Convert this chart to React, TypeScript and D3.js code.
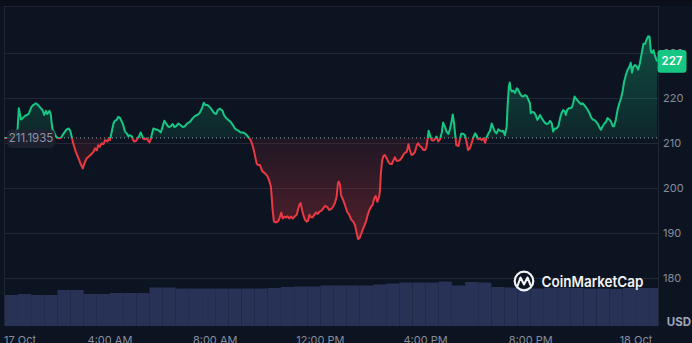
import React from "react";
import * as d3 from "d3";

// ---- data ----
// [minutes since 17 Oct 00:00, price USD]
const priceSeries: [number, number][] = [
  [0,211.1],[12,211.3],[21,211.6],[29,213.0],[32,217.8],[37,215.3],[41,215.6],[46,216.1],[54,216.5],[61,218.1],[65,218.5],[71,218.9],[76,218.5],[82,217.8],[86,217.4],[90,216.3],[94,217.2],[97,216.5],[102,217.2],[105,216.3],[107,214.4],[109,213.0],[117,211.5],[122,211.1],[128,211.2],[133,212.0],[141,213.1],[146,213.3],[150,212.6],[153,211.3],[156,210.0],[162,208.1],[168,206.7],[173,205.4],[178,204.4],[181,205.4],[187,206.7],[193,207.2],[198,207.6],[202,208.1],[206,208.9],[210,208.4],[213,209.6],[217,209.2],[221,210.0],[225,209.8],[229,210.7],[234,210.4],[238,211.1],
  [240,210.7],[244,212.6],[248,214.4],[251,215.0],[255,215.2],[259,215.9],[263,215.6],[267,214.8],[270,214.1],[274,212.6],[278,212.2],[282,211.6],[286,211.8],[290,211.5],[292,210.9],[295,210.4],[299,210.5],[302,210.9],[306,211.5],[310,212.4],[314,211.5],[316,211.0],[320,210.9],[324,211.1],[327,210.6],[330,210.2],[333,210.9],[335,211.8],[339,213.3],[343,213.1],[348,213.0],[352,212.8],[356,212.4],[360,213.7],[364,215.0],[368,214.4],[372,213.8],[375,213.6],[379,213.8],[383,214.3],[387,213.6],[391,213.8],[396,214.4],[401,214.0],[406,213.6],[411,213.8],[416,214.4],[423,214.8],[429,215.6],[434,216.1],[439,216.3],[444,216.7],[448,217.4],[451,218.1],[454,219.0],[458,218.5],[462,218.5],[467,218.1],[470,217.8],[474,217.2],[478,216.7],[482,216.5],[486,217.4],[491,217.7],
  [497,217.2],[500,216.3],[505,215.6],[510,215.2],[515,214.8],[520,214.1],[525,213.3],[529,213.0],[533,212.8],[538,212.4],[543,212.4],[548,212.2],[552,211.8],[556,211.3],[561,210.7],[565,209.6],[569,208.1],[572,206.7],[575,205.4],[578,205.2],[582,205.2],[585,204.4],[588,203.7],[594,203.3],[599,202.7],[603,201.8],[607,200.4],[609,198.1],[611,195.2],[614,192.6],[619,192.4],[624,192.7],[628,193.7],[631,194.6],[634,193.3],[638,193.7],[642,193.5],[645,193.8],[649,193.3],[653,193.7],[657,193.3],[661,193.7],[666,194.1],[669,195.3],[672,196.3],[675,196.7],[678,195.3],[681,194.1],[685,193.0],[689,192.6],[692,192.8],[695,194.1],[698,193.6],[702,193.5],[706,194.1],[710,194.6],[714,194.3],[718,194.8],[722,195.0],[727,195.6],[731,196.1],[736,195.8],[740,195.2],[745,195.4],[749,195.9],[753,196.7],[757,198.1],[760,201.1],[762,201.5],[765,200.7],
  [767,198.5],[772,197.4],[776,196.3],[781,194.8],[786,194.1],[790,193.1],[795,192.6],[799,191.8],[803,190.0],[806,188.7],[809,188.9],[813,189.8],[817,190.9],[820,191.6],[824,192.6],[828,194.1],[832,195.2],[835,195.8],[839,196.3],[843,197.8],[846,198.3],[850,197.0],[854,198.1],[856,199.6],[858,203.3],[861,206.3],[864,207.2],[867,207.4],[871,206.7],[875,205.9],[879,205.4],[883,205.4],[886,206.1],[890,206.9],[894,206.1],[898,206.1],[902,206.3],[905,206.7],[909,207.4],[913,207.9],[917,208.1],[921,209.8],[924,208.5],[928,207.4],[932,207.6],[936,208.1],[940,209.6],[943,210.0],[947,209.4],[951,209.1],[955,208.5],[959,208.5],[962,209.2],[965,211.2],[967,212.8],[970,211.8],[974,210.7],[978,210.6],[981,210.9],[985,211.5],[989,210.4],[993,210.9],
  [997,212.4],[1000,214.6],[1004,213.7],[1008,212.6],[1012,212.1],[1016,213.3],[1020,215.2],[1022,216.4],[1025,214.4],[1028,211.5],[1030,209.6],[1035,209.4],[1038,210.7],[1041,212.1],[1046,212.1],[1050,211.8],[1054,210.0],[1057,208.5],[1061,208.9],[1065,210.0],[1069,211.3],[1073,212.2],[1077,211.6],[1080,210.9],[1084,211.1],[1088,210.7],[1092,211.1],[1096,210.1],[1099,211.3],[1103,212.1],[1107,212.8],[1111,214.4],[1115,213.3],[1118,212.6],[1122,212.2],[1126,213.1],[1130,212.8],[1134,212.6],[1137,212.8],[1141,211.8],[1145,213.7],[1147,218.1],[1150,222.6],[1152,223.5],[1154,222.0],[1157,221.5],[1160,221.7],[1164,221.2],[1168,222.2],[1171,222.0],[1175,221.1],[1179,220.5],[1183,220.4],[1187,220.7],[1191,220.5],[1194,219.8],[1198,218.9],[1200,216.7],[1204,217.0],[1208,216.8],[1212,216.1],[1215,215.2],[1218,215.6],[1221,216.3],[1225,215.6],[1229,215.0],[1232,214.6],[1236,214.3],[1240,214.4],[1244,215.0],
  [1248,214.4],[1251,212.6],[1255,213.3],[1259,213.3],[1263,213.8],[1267,215.6],[1270,216.7],[1274,217.4],[1278,217.0],[1280,216.3],[1283,217.4],[1287,217.8],[1291,217.8],[1294,218.0],[1297,219.0],[1300,220.4],[1303,220.0],[1307,219.5],[1311,219.0],[1315,218.7],[1318,218.9],[1322,218.5],[1326,218.0],[1330,217.4],[1334,216.7],[1337,215.9],[1341,215.3],[1345,215.2],[1349,214.8],[1353,214.3],[1356,213.7],[1360,213.0],[1364,213.8],[1368,214.4],[1372,214.8],[1375,215.6],[1379,215.3],[1383,214.8],[1387,213.8],[1390,213.8],[1394,215.2],[1398,217.4],[1402,218.9],[1406,220.0],[1410,221.8],[1413,223.7],[1417,225.2],[1421,226.3],[1425,227.0],[1428,227.9],[1431,225.7],[1434,227.0],[1438,227.4],[1442,227.0],[1445,226.4],[1449,227.8],[1453,230.0],[1457,232.1],[1461,232.1],[1464,233.0],[1468,233.8],[1471,233.7],[1474,230.4],[1477,230.1],[1480,230.7],[1483,229.6],[1488,228.2],
];

// volume per 30-minute slot (relative units)
const volumes = [62,64,62,62,72,72,64,64,66,66,66,77,77,75,75,75,75,75,75,75,76,78,79,79,81,81,81,81,83,85,87,87,87,89,81,88,87,78,77,75,75,77,77,76,75,75,74,76,76,76];
const volumeSlotMinutes = 30;

const yTicks = [180, 190, 200, 210, 220, 230];
const xTickMinutes = [0, 240, 480, 720, 960, 1200, 1440];
const xTickLabels = ["17 Oct", "4:00 AM", "8:00 AM", "12:00 PM", "4:00 PM", "8:00 PM", "18 Oct"];
const baselinePrice = 211.1935;
const baselineLabel = "211.1935";
const lastPriceLabel = "227";
const currencyLabel = "USD";
const brandLabel = "CoinMarketCap";

// ---- layout ----
const W = 692, H = 343;
const L = 4, R = 658, T = 6, B = 326;
const GREEN = "#16c784", RED = "#ea3943";
const FONT = "Inter, 'Noto Sans', sans-serif";

export default function App() {
  const x = d3.scaleLinear().domain([0, 1488]).range([4.8, 657]);
  const y = d3.scaleLinear().domain([180, 230]).range([278.3, 53.3]);
  const yVol = d3.scaleLinear().domain([0, 100]).range([B, 276]);
  const by = y(baselinePrice);

  const line = d3.line<[number, number]>().x(d => x(d[0])).y(d => y(d[1]));
  const area = d3.area<[number, number]>().x(d => x(d[0])).y0(by).y1(d => y(d[1]));
  const last = priceSeries[priceSeries.length - 1];
  const lastY = y(last[1]);

  return (
    <svg width={W} height={H} style={{ position: "fixed", left: 0, top: 0, display: "block" }} fontFamily={FONT}>
      <defs>
        <clipPath id="plot"><rect x={L} y={T} width={R - L} height={B - T} /></clipPath>
        <clipPath id="above"><rect x={L} y={0} width={R - L} height={by} /></clipPath>
        <clipPath id="below"><rect x={L} y={by} width={R - L} height={B - by} /></clipPath>
        <linearGradient id="gGreen" gradientUnits="userSpaceOnUse" x1="0" x2="0" y1={y(234)} y2={by}>
          <stop offset="0" stopColor={GREEN} stopOpacity={0.32} />
          <stop offset="1" stopColor={GREEN} stopOpacity={0.1} />
        </linearGradient>
        <linearGradient id="gRed" gradientUnits="userSpaceOnUse" x1="0" x2="0" y1={by} y2={y(188)}>
          <stop offset="0" stopColor={RED} stopOpacity={0.08} />
          <stop offset="1" stopColor={RED} stopOpacity={0.32} />
        </linearGradient>
      </defs>

      <rect x={0} y={0} width={W} height={H} fill="#0d1421" />
      <rect x={0} y={0} width={W} height={T} fill="#0a0f19" />
      <line x1={L + 0.5} x2={L + 0.5} y1={T} y2={B} stroke="#1f2533" />
      <line x1={L} x2={R} y1={T + 0.5} y2={T + 0.5} stroke="#1f2533" />
      <line x1={R + 0.5} x2={R + 0.5} y1={T} y2={B} stroke="#1f2533" />

      {yTicks.map(t => (
        <line key={t} x1={L} x2={R} y1={Math.round(y(t)) + 0.5} y2={Math.round(y(t)) + 0.5} stroke="#222836" />
      ))}

      <g clipPath="url(#plot)">
        {volumes.map((v, i) => (
          <rect key={i} x={x(i * volumeSlotMinutes)} width={x((i + 1) * volumeSlotMinutes) - x(i * volumeSlotMinutes)}
            y={yVol(v)} height={B - yVol(v)} fill="#283156" />
        ))}
      </g>

      <path d={area(priceSeries) || ""} fill="url(#gGreen)" clipPath="url(#above)" />
      <path d={area(priceSeries) || ""} fill="url(#gRed)" clipPath="url(#below)" />

      <line x1={L} x2={R} y1={by} y2={by} stroke="#c5c9d4" strokeOpacity={0.75} strokeDasharray="1 3" />

      <path d={line(priceSeries) || ""} fill="none" stroke={GREEN} strokeWidth={2} strokeLinejoin="round" clipPath="url(#above)" />
      <path d={line(priceSeries) || ""} fill="none" stroke={RED} strokeWidth={2} strokeLinejoin="round" clipPath="url(#below)" />

      {/* brand */}
      <g>
        <circle cx={524} cy={281} r={9.3} fill="none" stroke="#f2f3f5" strokeWidth={2.2} />
        <path d="M517.5 286 L520.5 277.5 L524 284.5 L527.5 277.5 L530.5 285" fill="none" stroke="#f2f3f5" strokeWidth={2.1} strokeLinejoin="round" strokeLinecap="round" />
        <text x={541.5} y={286.5} fontSize={15} fontWeight={600} fill="#f2f3f5" textLength={102} lengthAdjust="spacingAndGlyphs">{brandLabel}</text>
      </g>

      {/* baseline label */}
      <rect x={7} y={129.5} width={48} height={18.5} rx={5} fill="#1e2331" fillOpacity={0.92} />
      <text x={31} y={by + 1} textAnchor="middle" dominantBaseline="middle" fontSize={11.5} fill="#8e94a6">{baselineLabel}</text>

      {/* y axis labels */}
      {yTicks.map(t => (
        <text key={t} x={663} y={y(t) + 0.5} dominantBaseline="middle" fontSize={11} fill="#858b9c">{t}</text>
      ))}
      <text x={691} y={326} textAnchor="end" fontSize={11.5} fontWeight={700} fill="#a1a7bb">{currencyLabel}</text>

      {/* x axis labels */}
      {xTickMinutes.map((m, i) => (
        <text key={m} x={i === 0 ? 4 : x(m)} y={344} textAnchor={i === 0 ? "start" : "middle"} fontSize={11} fill="#858b9c">{xTickLabels[i]}</text>
      ))}

      {/* last price badge */}
      <rect x={657.5} y={lastY - 11.3} width={29} height={22.6} rx={3} fill={GREEN} />
      <text x={672} y={lastY + 0.5} textAnchor="middle" dominantBaseline="middle" fontSize={11.5} fontWeight={600} fill="#ffffff">{lastPriceLabel}</text>
    </svg>
  );
}
